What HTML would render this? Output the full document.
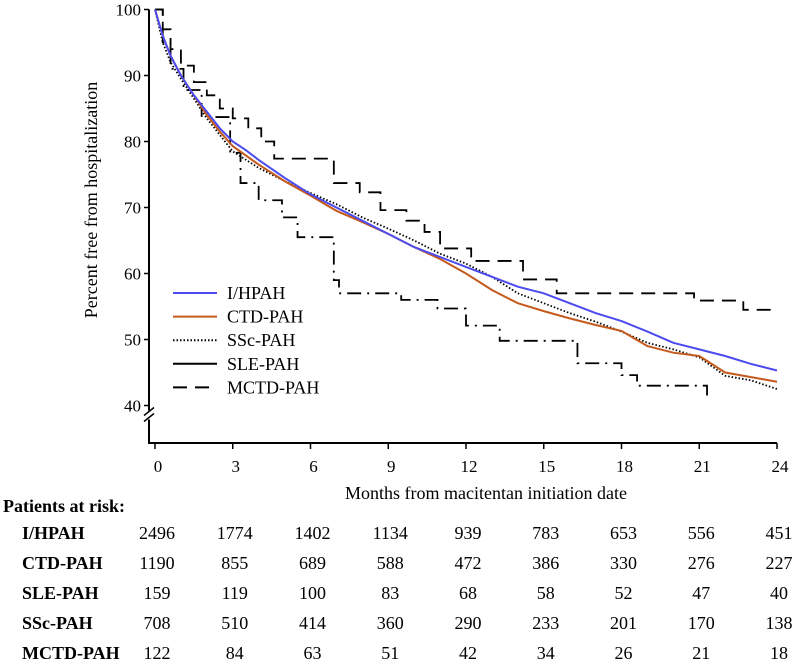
<!DOCTYPE html>
<html><head><meta charset="utf-8"><style>
html,body{margin:0;padding:0;background:#fff}
svg{display:block}
text{font-family:"Liberation Serif",serif;fill:#000}
.b{font-weight:bold}
</style></head><body>
<svg id="c" width="797" height="663" viewBox="0 0 797 663">
  <text x="97" y="200" font-size="18" text-anchor="middle" transform="rotate(-90 97 200)">Percent free from hospitalization</text>
  <text x="486" y="499" font-size="18" text-anchor="middle">Months from macitentan initiation date</text>
  <g id="axes"></g>
  <g id="series"></g>
  <g id="legend"></g>
  <g id="risk"></g>
</svg>
<script>
const xTicks=[0,3,6,9,12,15,18,21,24];
const yTicks=[40,50,60,70,80,90,100];
const ihpah=[[0,100],[0.3,96],[0.6,93],[1,90],[1.5,87],[2,84.5],[2.5,82],[3,80],[3.5,78.7],[4,77.2],[5,74.5],[6,72],[7,70],[8,68],[9,66],[10,64],[11,62.5],[12,61],[13,59.5],[14,58],[15,57],[16,55.5],[17,54],[18,52.8],[19,51.2],[20,49.5],[21,48.5],[22,47.5],[23,46.3],[24,45.3]];
const ctd=[[0,100],[0.3,96],[0.6,93],[1,90],[1.5,87],[2,84],[2.5,81.5],[3,79.3],[4,76.5],[5,74],[6,71.8],[7,69.5],[8,67.8],[9,66],[10,64],[11,62.2],[12,60],[13,57.5],[14,55.5],[15,54.3],[16,53.2],[17,52.2],[18,51.3],[19,49],[20,48],[21,47.5],[22,45],[23,44.3],[24,43.6]];
const ssc=[[0,100],[0.3,95],[0.6,92],[1,89.5],[1.5,86.5],[2,83.5],[2.5,81],[3,78.5],[4,76],[5,74],[6,72.2],[7,70.5],[8,68.5],[9,66.8],[10,65],[11,63],[12,61.5],[13,59.5],[14,57],[15,55.5],[16,54],[17,52.7],[18,51.2],[19,49.5],[20,48.5],[21,47.3],[22,44.5],[23,43.8],[24,42.5]];
const sle=[[0,100],[0.3,95],[0.6,91],[1.1,87.8],[1.8,83.7],[2.9,78.3],[3.3,73.7],[4,71.1],[4.9,68.5],[5.5,65.5],[6.9,59],[7.1,57],[9.5,56],[10.9,54.7],[12,52.1],[13.3,49.8],[16.3,46.4],[18,44.6],[18.6,43],[21.3,40.7]];
const mctd=[[0,100],[0.3,97],[0.6,94],[1,91.5],[1.5,89],[2,87],[2.5,85],[3,83.5],[3.6,82],[4.1,80],[4.6,77.4],[6.9,73.7],[7.9,72.3],[8.7,69.6],[9.7,68],[10.4,66.3],[11,63.8],[12.2,61.9],[14.2,59.1],[15.5,57],[20.8,55.9],[22.7,54.5],[24,54.5]];
const riskGroups=["I/HPAH","CTD-PAH","SLE-PAH","SSc-PAH","MCTD-PAH"];
const riskI=[2496,1774,1402,1134,939,783,653,556,451];
const riskC=[1190,855,689,588,472,386,330,276,227];
const riskSLE=[159,119,100,83,68,58,52,47,40];
const riskSSc=[708,510,414,360,290,233,201,170,138];
const riskM=[122,84,63,51,42,34,26,21,18];

const NS="http://www.w3.org/2000/svg";
const X=m=>155+m*(777-155)/24;
const Y=v=>9.5+(100-v)*6.6;
function mk(tag,attrs,parent){const e=document.createElementNS(NS,tag);for(const k in attrs)e.setAttribute(k,attrs[k]);parent.appendChild(e);return e;}
const axes=document.getElementById('axes');
let ya=mk('path',{d:`M149,${Y(100)} V${Y(40)+5} M149,${Y(40)+14} V443 H777`,stroke:'#000','stroke-width':2,fill:'none'},axes);


let br=mk('path',{d:`M144,${Y(40)+10} L154,${Y(40)+2} M144,${Y(40)+16} L154,${Y(40)+8}`,stroke:'#000','stroke-width':1.5,fill:'none'},axes);


yTicks.forEach(v=>{
  const t=mk('line',{x1:144,x2:149,y1:Y(v),y2:Y(v),stroke:'#000','stroke-width':1.5},axes);
  
  
  const l=mk('text',{x:141,y:Y(v)+6,'font-size':17,'text-anchor':'end'},axes);l.textContent=v;
  
  
});
xTicks.forEach(m=>{
  const t=mk('line',{x1:X(m),x2:X(m),y1:443,y2:449,stroke:'#000','stroke-width':1.5},axes);
  
  
  const l=mk('text',{x:X(m)+3,y:472,'font-size':17,'text-anchor':'middle'},axes);l.textContent=m;
  
  
});
function stepPath(pts){let d=`M${X(pts[0][0])},${Y(pts[0][1])}`;for(let i=1;i<pts.length;i++){d+=` H${X(pts[i][0])} V${Y(pts[i][1])}`;}return d;}
function linePath(pts){return pts.map((p,i)=>(i?'L':'M')+X(p[0])+','+Y(p[1])).join(' ');}
const ser=document.getElementById('series');
const specs=[
  [mctd,'#000','14,8',1.8,'series-mctd-pah',true],
  [sle,'#000','14,6,2,6',1.8,'series-sle-pah',true],
  [ssc,'#000','1.5,2',1.8,'series-ssc-pah',false],
  [ctd,'#c55a1c','',2,'series-ctd-pah',false],
  [ihpah,'#4b4bef','',2,'series-i-hpah',false]
];
specs.forEach(s=>{
  const p=mk('path',{d:s[5]?stepPath(s[0]):linePath(s[0]),stroke:s[1],'stroke-width':s[3],fill:'none'},ser);
  if(s[2])p.setAttribute('stroke-dasharray',s[2]);
  
  
});
const lg=document.getElementById('legend');
const lgItems=[['I/HPAH','#4b4bef',''],['CTD-PAH','#c55a1c',''],['SSc-PAH','#000','1.5,2'],['SLE-PAH','#000',''],['MCTD-PAH','#000','14,8']];
lgItems.forEach((it,i)=>{
  const y=293+i*23.6;
  const l=mk('line',{x1:173,x2:217,y1:y,y2:y,stroke:it[1],'stroke-width':2},lg);
  if(it[2])l.setAttribute('stroke-dasharray',it[2]);
  
  
  const t=mk('text',{x:227,y:y+6,'font-size':18},lg);t.textContent=it[0];
  
  
});
const rk=document.getElementById('risk');
const h=mk('text',{x:3,y:512,'font-size':18,class:'b'},rk);h.textContent='Patients at risk:';


const rows=[riskI,riskC,riskSLE,riskSSc,riskM];
rows.forEach((r,i)=>{
  const y=539+i*30;
  const lab=mk('text',{x:22,y:y,'font-size':18,class:'b'},rk);lab.textContent=riskGroups[i];
  
  
  r.forEach((n,j)=>{
    const t=mk('text',{x:X(xTicks[j])+2,y:y,'font-size':18,'text-anchor':'middle'},rk);t.textContent=n;
    
    
  });
});
</script>
</body></html>
